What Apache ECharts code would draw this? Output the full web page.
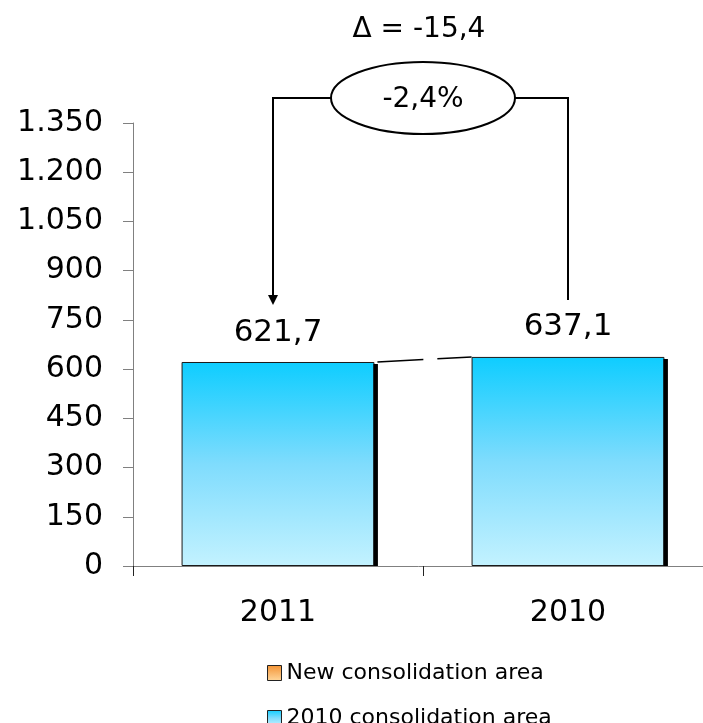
<!DOCTYPE html>
<html>
<head>
<meta charset="utf-8">
<title>Consolidation area comparison</title>
<script src="https://cdn.jsdelivr.net/npm/echarts@6/dist/echarts.min.js"></script>
<style>
  html, body { margin: 0; padding: 0; background: #fff; }
  #chart { width: 703px; height: 723px; }
</style>
</head>
<body>
<div id="chart"></div>
<script>
// Chart data
var categories = ['2011', '2010'];
var area2010 = [621.7, 637.1];     // 2010 consolidation area
var areaNew = [0, 0];              // new consolidation area
var yTicks = { min: 0, max: 1350, interval: 150 };

var FONT = 'DejaVu Sans';
var BAR_RATIO = 0.665;

function fmtDecimal(v) {
  return v.toFixed(1).replace('.', ',');
}
function fmtThousands(v) {
  var s = String(Math.round(v));
  return s.replace(/\B(?=(\d{3})+(?!\d))/g, '.');
}

var delta = area2010[0] - area2010[1];
var deltaPct = delta / area2010[1] * 100;
var deltaText = '\u0394 = ' + fmtDecimal(delta);
var pctText = fmtDecimal(deltaPct) + '%';

var blueFill = new echarts.graphic.LinearGradient(0, 0, 0, 1, [
  { offset: 0, color: '#0ecdff' },
  { offset: 0.5, color: '#7fdcfd' },
  { offset: 1, color: '#c3f2ff' }
]);
var orangeFill = new echarts.graphic.LinearGradient(0, 0, 0, 1, [
  { offset: 0, color: '#f39233' },
  { offset: 1, color: '#ffd79c' }
]);

var legendCommon = {
  orient: 'vertical',
  left: 262,
  itemWidth: 14,
  itemHeight: 15,
  textStyle: { fontFamily: FONT, fontSize: 22, color: '#000', lineHeight: 22 }
};

var chart = echarts.init(document.getElementById('chart'), null, { renderer: 'canvas' });

chart.setOption({
  animation: false,
  backgroundColor: '#ffffff',
  textStyle: { fontFamily: FONT },
  grid: {
    left: 133, right: -10, top: 123, bottom: 157,
    containLabel: false,
    outerBoundsMode: 'none'
  },
  legend: [
    Object.assign({}, legendCommon, {
      top: 657,
      data: [{ name: 'New consolidation area', icon: 'rect', itemStyle: { borderColor: '#222', borderWidth: 1 } }]
    }),
    Object.assign({}, legendCommon, {
      top: 702,
      data: [{ name: '2010 consolidation area', icon: 'rect', itemStyle: { borderColor: '#222', borderWidth: 1 } }]
    })
  ],
  xAxis: {
    type: 'category',
    data: categories,
    axisLine: { show: true, lineStyle: { color: '#808080', width: 1 } },
    axisTick: { show: true, length: 10, alignWithLabel: false, lineStyle: { color: '#222', width: 1 } },
    axisLabel: { fontFamily: FONT, fontSize: 30, color: '#000', margin: 32 },
    splitLine: { show: false }
  },
  yAxis: {
    type: 'value',
    min: yTicks.min,
    max: yTicks.max,
    interval: yTicks.interval,
    axisLine: { show: true, lineStyle: { color: '#808080', width: 1 } },
    axisTick: { show: true, length: 10, lineStyle: { color: '#808080', width: 1 } },
    axisLabel: {
      fontFamily: FONT, fontSize: 30, color: '#000', margin: 30,
      formatter: function (v) { return fmtThousands(v); }
    },
    splitLine: { show: false }
  },
  series: [
    {
      name: '2010 consolidation area',
      type: 'bar',
      stack: 'area',
      barWidth: (BAR_RATIO * 100) + '%',
      data: area2010,
      itemStyle: {
        color: blueFill,
        borderColor: '#1a1a1a',
        borderWidth: 1
      },
      label: {
        show: true,
        position: 'top',
        distance: 14,
        fontFamily: FONT,
        fontSize: 31,
        color: '#000',
        formatter: function (p) { return fmtDecimal(p.value); }
      },
      emphasis: { disabled: true }
    },
    {
      name: 'New consolidation area',
      type: 'bar',
      stack: 'area',
      data: areaNew,
      itemStyle: { color: orangeFill, borderWidth: 0 },
      label: { show: false },
      emphasis: { disabled: true }
    },
    {
      // dark edge along the right side of each bar
      name: 'edge',
      type: 'custom',
      silent: true,
      z: 3,
      data: area2010.map(function (v, i) { return [i, v]; }),
      renderItem: function (params, api) {
        var i = api.value(0);
        var top = api.coord([i, api.value(1)]);
        var base = api.coord([i, 0]);
        var half = api.size([1, 0])[0] * BAR_RATIO / 2;
        return {
          type: 'rect',
          shape: { x: top[0] + half - 1, y: top[1] + 2, width: 4.5, height: base[1] - top[1] - 2 },
          style: { fill: '#000' }
        };
      }
    },
    {
      // bracket annotation: connector between bar tops, arrows, ellipse and delta texts
      name: 'delta',
      type: 'custom',
      silent: true,
      z: 10,
      data: [[0, 0]],
      renderItem: function (params, api) {
        var p1 = api.coord([0, area2010[0]]);
        var p2 = api.coord([1, area2010[1]]);
        var band = api.size([1, 0])[0];
        var half = band * BAR_RATIO / 2;
        var topY = api.coord([0, yTicks.max])[1];
        var yB = topY - 25;
        var xL = p1[0] - 5;
        var xR = p2[0];
        var xM = (p1[0] + p2[0]) / 2;
        var rx = 92, ry = 36;
        var gap = 57;
        var tipY = p1[1] - gap;
        var endY = p2[1] - gap;
        var lineStyle = { stroke: '#000', lineWidth: 2, fill: null };
        return {
          type: 'group',
          children: [
            {
              type: 'line',
              shape: { x1: p1[0] + half + 3, y1: p1[1], x2: p2[0] - half, y2: p2[1] },
              style: { stroke: '#000', lineWidth: 1.5, lineDash: [46, 14] }
            },
            {
              type: 'polyline',
              shape: { points: [[xL, tipY - 8], [xL, yB], [xM - rx, yB]] },
              style: lineStyle
            },
            {
              type: 'polygon',
              shape: { points: [[xL - 5, tipY - 10], [xL + 5, tipY - 10], [xL, tipY]] },
              style: { fill: '#000' }
            },
            {
              type: 'polyline',
              shape: { points: [[xM + rx, yB], [xR, yB], [xR, endY]] },
              style: lineStyle
            },
            {
              type: 'ellipse',
              shape: { cx: xM, cy: yB, rx: rx, ry: ry },
              style: { fill: '#fff', stroke: '#000', lineWidth: 2 }
            },
            {
              type: 'text',
              x: xM,
              y: yB + 2,
              style: {
                text: pctText, fontFamily: FONT, fontSize: 28, fill: '#000',
                align: 'center', verticalAlign: 'middle'
              }
            },
            {
              type: 'text',
              x: xM - 4,
              y: yB - 68,
              style: {
                text: deltaText, fontFamily: FONT, fontSize: 28, fill: '#000',
                align: 'center', verticalAlign: 'middle'
              }
            }
          ]
        };
      }
    }
  ]
});
</script>
</body>
</html>
